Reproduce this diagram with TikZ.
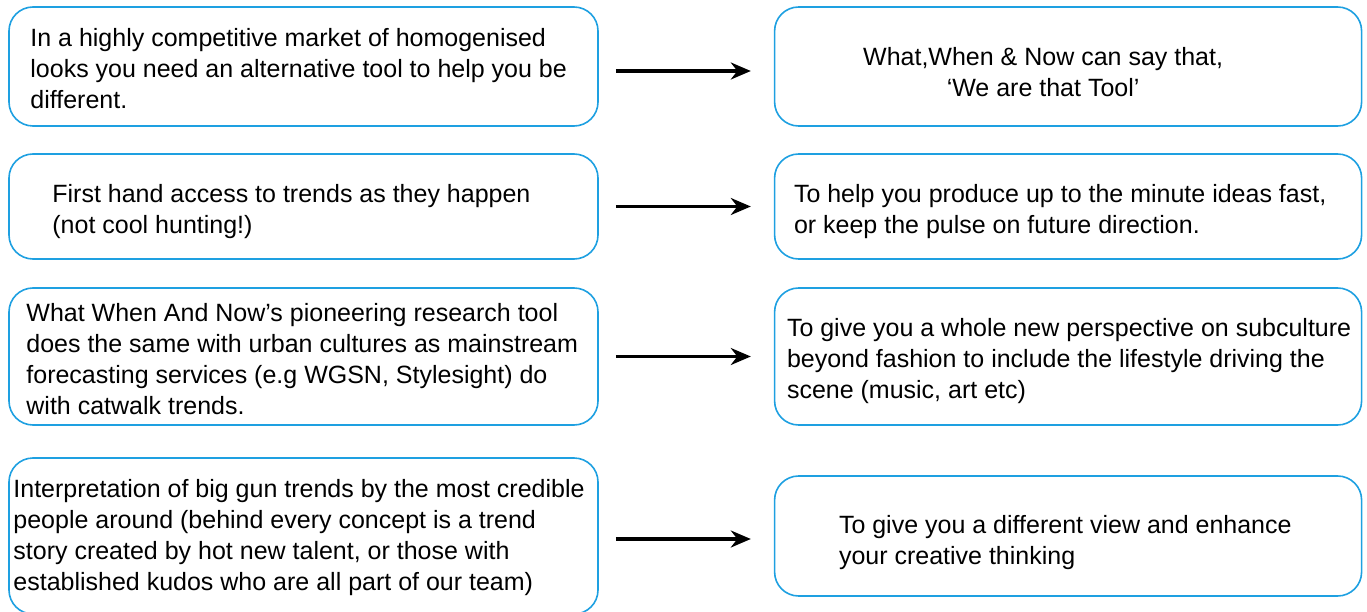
\documentclass[tikz,border=0pt]{standalone}
\usepackage{fontspec}
\setmainfont{Liberation Sans}
\usetikzlibrary{positioning,arrows.meta}
\definecolor{boxblue}{RGB}{30,160,225}

\begin{document}
\begin{tikzpicture}[x=1pt,y=-1pt,
    box/.style={draw=boxblue, line width=1.6pt, rounded corners=24pt, inner sep=0pt, minimum width=589pt},
    txt/.style={font=\fontsize{25}{31}\selectfont, align=left, inner sep=0pt, anchor=west},
    link/.style={-{Stealth[length=20pt,width=17pt]}, line width=3.2pt, shorten <=17pt, shorten >=23pt}]
    \useasboundingbox (0,0) rectangle (1367,612);
    % left column
    \node[box, minimum height=119pt](L1) at (303.5,66.5){};
    \node[box, minimum height=105pt](L2) at (303.5,206.5){};
    \node[box, minimum height=137pt](L3) at (303.5,356.5){};
    \node[box, minimum height=156pt](L4) at (303.5,536){};
    % right column
    \node[box, minimum width=587pt, minimum height=119pt](R1)[right=175pt of L1]{};
    \node[box, minimum width=587pt, minimum height=105pt](R2)[right=175pt of L2]{};
    \node[box, minimum width=587pt, minimum height=137pt](R3)[right=175pt of L3]{};
    \node[box, minimum width=587pt, minimum height=120pt](R4)[right=175pt of L4]{};
    % texts
    \node[txt] at ([xshift=22pt,yshift=-2pt]L1.west){In a highly competitive market of homogenised\\looks you need an alternative tool to help you be\\different.};
    \node[txt] at ([xshift=44pt,yshift=-5pt]L2.west){First hand access to trends as they happen\\(not cool hunting!)};
    \node[txt] at ([xshift=18pt,yshift=-3pt]L3.west){What When And Now’s pioneering research tool\\does the same with urban cultures as mainstream\\forecasting services (e.g WGSN, Stylesight) do\\with catwalk trends.};
    \node[txt] at ([xshift=5pt,yshift=-2pt]L4.west){Interpretation of big gun trends by the most credible\\people around (behind every concept is a trend\\story created by hot new talent, or those with\\established kudos who are all part of our team)};
    \node[txt, align=center, anchor=center] at ([xshift=-25pt,yshift=-6pt]R1.center){What,When \& Now can say that,\\‘We are that Tool’};
    \node[txt] at ([xshift=20pt,yshift=-5pt]R2.west){To help you produce up to the minute ideas fast,\\or keep the pulse on future direction.};
    \node[txt] at ([xshift=13pt,yshift=-5pt]R3.west){To give you a whole new perspective on subculture\\beyond fashion to include the lifestyle driving the\\scene (music, art etc)};
    \node[txt] at ([xshift=65pt,yshift=-7pt]R4.west){To give you a different view and enhance\\your creative thinking};
    % arrows
    \draw[link] ([yshift=-4.5pt]L1.east) -- ([yshift=-4.5pt]R1.west);
    \draw[link] (L2.east) -- (R2.west);
    \draw[link] (L3.east) -- (R3.west);
    \draw[link] ([yshift=-3pt]L4.east) -- ([yshift=-3pt]L4.east -| R4.west);
\end{tikzpicture}
\end{document}
